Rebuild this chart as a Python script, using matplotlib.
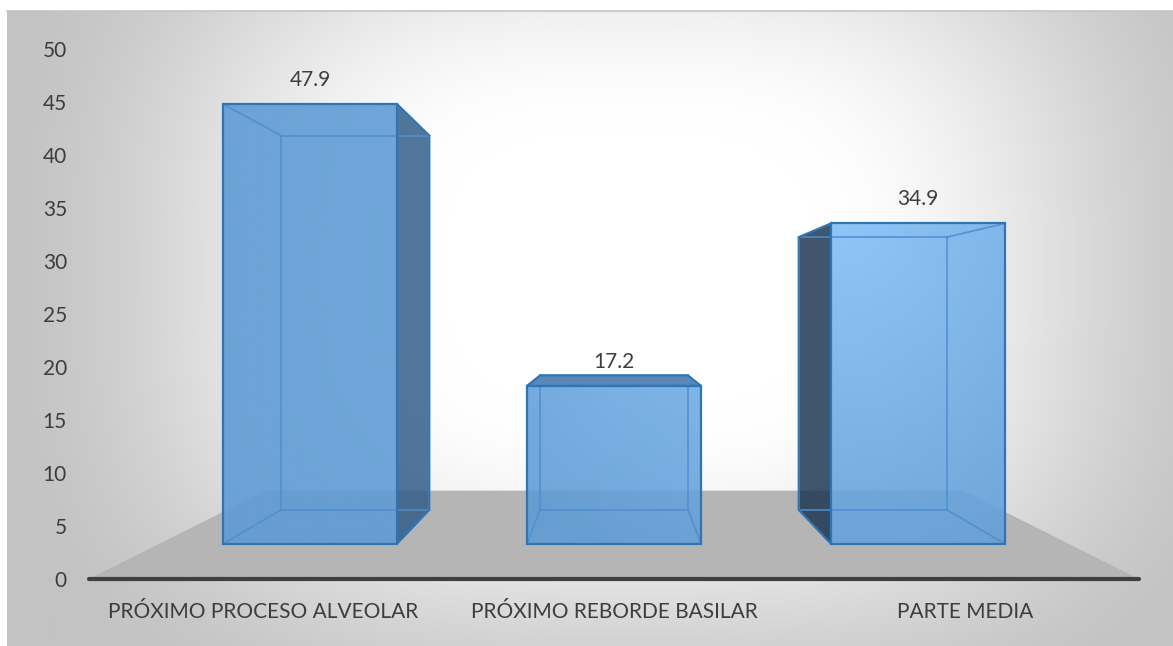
import numpy as np
import matplotlib.pyplot as plt
from matplotlib.patches import Polygon

categories = ['PRÓXIMO PROCESO ALVEOLAR', 'PRÓXIMO REBORDE BASILAR', 'PARTE MEDIA']
values = [47.9, 17.2, 34.9]
y_ticks = list(range(0, 55, 5))

plt.rcParams['font.family'] = ['Lato', 'DejaVu Sans']
TEXT = '#3d3d3d'
FS = 15

W, H = 1173, 646
fig = plt.figure(figsize=(W / 100, H / 100), dpi=100)
ax = fig.add_axes([0, 0, 1, 1])

# value axis: 0 sits on the front edge of the floor, 10.6 px per unit
PX_PER_UNIT = 10.6
BASE_PX = 579


def px_to_v(py):
    return (BASE_PX - py) / PX_PER_UNIT


# simple perspective: s = depth scale (1 = front edge of the floor)
VP_X = 614
VP_V = px_to_v(316)


def project(X, V, s):
    return VP_X + X * s, VP_V + (V - VP_V) * s


SLOT = 351
HALF_W = 100.5
S_FRONT, S_BACK = 0.866, 0.737
FLOOR_HALF = 525
S_FLOOR_BACK = 0.664

# chart area background with radial shading
gx = np.linspace(7, W, 400)
gy = np.linspace(11, H, 240)
XX, YY = np.meshgrid(gx, gy)
d = (np.abs((XX - 630) / 620) ** 3 + np.abs((YY - 270) / 470) ** 3) ** (1 / 3)
t = np.clip((d - 0.3) / 0.75, 0, 1)
t = t * t * (3 - 2 * t)
gray = (255 - 60 * t) / 255
bg = np.dstack([gray, gray, gray])
ax.imshow(bg, extent=(7, W, px_to_v(H), px_to_v(11)), aspect='auto',
          interpolation='bilinear', zorder=0)
ax.plot([7, W], [px_to_v(10.5)] * 2, color='#c4c4c4', lw=1.2, zorder=1)

# floor
floor = [project(-FLOOR_HALF, 0, 1), project(FLOOR_HALF, 0, 1),
         project(FLOOR_HALF, 0, S_FLOOR_BACK), project(-FLOOR_HALF, 0, S_FLOOR_BACK)]
ax.add_patch(Polygon(floor, closed=True, facecolor='#b5b5b5', edgecolor='none', zorder=1))
ax.plot([floor[0][0], floor[1][0]], [floor[0][1], floor[1][1]],
        color='#3f3f3f', lw=3, solid_capstyle='round', zorder=2)

# lighting field used for the front faces
fx = np.linspace(0, W, 300)
fy = np.linspace(0, H, 170)
FX, FY = np.meshgrid(fx, fy)
dist = np.hypot(FX - 840, FY - 210)
k = np.clip(1 - dist / 450, 0, 1) ** 1.2
base = np.array([92, 154, 213]) / 255
light = np.array([130, 191, 247]) / 255
field = base + (light - base) * k[..., None]

EDGE = '#2e75b6'
INNER = '#4d8fcf'

for i, v in enumerate(values):
    xc = (i - 1) * SLOT
    x0, x1 = xc - HALF_W, xc + HALF_W
    f = [project(x0, 0, S_FRONT), project(x1, 0, S_FRONT),
         project(x1, v, S_FRONT), project(x0, v, S_FRONT)]
    b = [project(x0, 0, S_BACK), project(x1, 0, S_BACK),
         project(x1, v, S_BACK), project(x0, v, S_BACK)]

    # side faces that face the viewer
    if x1 < 0:
        side = [f[1], b[1], b[2], f[2]]
        ax.add_patch(Polygon(side, closed=True, facecolor='#315c87', alpha=0.84,
                             edgecolor='none', zorder=4))
        ax.add_patch(Polygon(side, closed=True, fill=False, edgecolor=EDGE, lw=1.4, zorder=6))
    if x0 > 0:
        side = [f[0], b[0], b[3], f[3]]
        ax.add_patch(Polygon(side, closed=True, facecolor='#1c3652', alpha=0.84,
                             edgecolor='none', zorder=4))
        ax.add_patch(Polygon(side, closed=True, fill=False, edgecolor=EDGE, lw=1.4, zorder=6))
    # top face, seen only when the bar is below eye level
    if v < VP_V:
        top = [f[3], f[2], b[2], b[3]]
        ax.add_patch(Polygon(top, closed=True, facecolor='#3a70a6', alpha=0.84,
                             edgecolor='none', zorder=4))
        ax.add_patch(Polygon(top, closed=True, fill=False, edgecolor=EDGE, lw=1.4, zorder=6))

    # front face, semi-transparent with the lighting field
    front = Polygon(f, closed=True, facecolor='none', edgecolor='none', zorder=5)
    ax.add_patch(front)
    im = ax.imshow(field, extent=(0, W, px_to_v(H), px_to_v(0)), aspect='auto',
                   alpha=0.88, interpolation='bilinear', zorder=5)
    im.set_clip_path(front)

    # edges behind the front face, visible through it
    back_edges = [(b[0], b[1]), (b[1], b[2]), (b[2], b[3]), (b[3], b[0])]
    back_edges += [(f[k], b[k]) for k in range(4)]
    for p, q in back_edges:
        ax.plot([p[0], q[0]], [p[1], q[1]], color=INNER, lw=1.2, alpha=0.9, zorder=5.5)

    ax.add_patch(Polygon(f, closed=True, fill=False, edgecolor=EDGE, lw=1.6, zorder=6))

    ax.annotate(f'{v:.1f}', xy=project(xc, v, S_FRONT), xytext=(0, 17.3),
                textcoords='offset points', ha='center', va='center',
                fontsize=FS, color=TEXT, zorder=7)

# axis tick labels
ax.set_xlim(0, W)
ax.set_ylim(px_to_v(H), px_to_v(0))
ax.set_yticks(y_ticks)
ax.set_yticklabels([str(t) for t in y_ticks])
ax.set_xticks([project((i - 1) * SLOT, 0, 1)[0] for i in range(len(categories))])
ax.set_xticklabels(categories)
ax.tick_params(axis='y', length=0, pad=-48.2, labelsize=FS, labelcolor=TEXT)
ax.tick_params(axis='x', length=0, pad=-31.5, labelsize=FS, labelcolor=TEXT)
for sp in ax.spines.values():
    sp.set_visible(False)
for lab in ax.get_yticklabels():
    lab.set_zorder(7)

fig.savefig('out.png', dpi=100, facecolor='white')
